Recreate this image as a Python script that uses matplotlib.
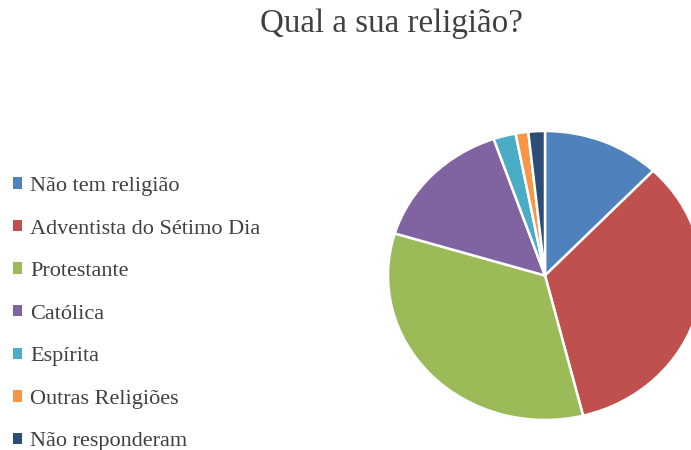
import matplotlib
matplotlib.use("Agg")
import matplotlib.pyplot as plt

categories = ["Não tem religião", "Adventista do Sétimo Dia", "Protestante",
              "Católica", "Espírita", "Outras Religiões", "Não responderam"]
values = [12.1, 34.0, 33.6, 15.0, 2.3, 1.3, 1.7]
colors = ["#4F81BD", "#C0504D", "#9BBB59", "#8064A2", "#4BACC6", "#F79646", "#2C4D75"]
title = "Qual a sua religião?"

W, H = 691, 450
fig = plt.figure(figsize=(W / 100, H / 100), dpi=100)

# pie geometry (pixels)
cx, cy, rx, ry = 545, 275.5, 157, 144.5
lim = 1.05
ax_w, ax_h = 2 * lim * rx, 2 * lim * ry
ax = fig.add_axes([(cx - ax_w / 2) / W, (H - cy - ax_h / 2) / H, ax_w / W, ax_h / H])
wedges, _ = ax.pie(values, colors=colors, startangle=90, counterclock=False,
                   wedgeprops=dict(edgecolor="white", linewidth=1.8))
ax.set_aspect("auto")
ax.set_xlim(-lim, lim)
ax.set_ylim(-lim, lim)

serif = ["Liberation Serif", "DejaVu Serif"]
txt = "#404040"
fig.text(391 / W, 1 - 24 / H, title, ha="center", va="center",
         fontsize=23.8, color=txt, family=serif)

leg = fig.legend(wedges, categories, loc="upper left",
                 bbox_to_anchor=(13 / W, 1 - 177 / H), borderaxespad=0, borderpad=0,
                 frameon=False, handlelength=0.42, handleheight=0.42,
                 handletextpad=0.36, labelspacing=1.06,
                 prop=dict(family=serif, size=16))
for t in leg.get_texts():
    t.set_color(txt)
for h in leg.legend_handles:
    h.set_edgecolor("none")

fig.savefig("out.png", dpi=100)
